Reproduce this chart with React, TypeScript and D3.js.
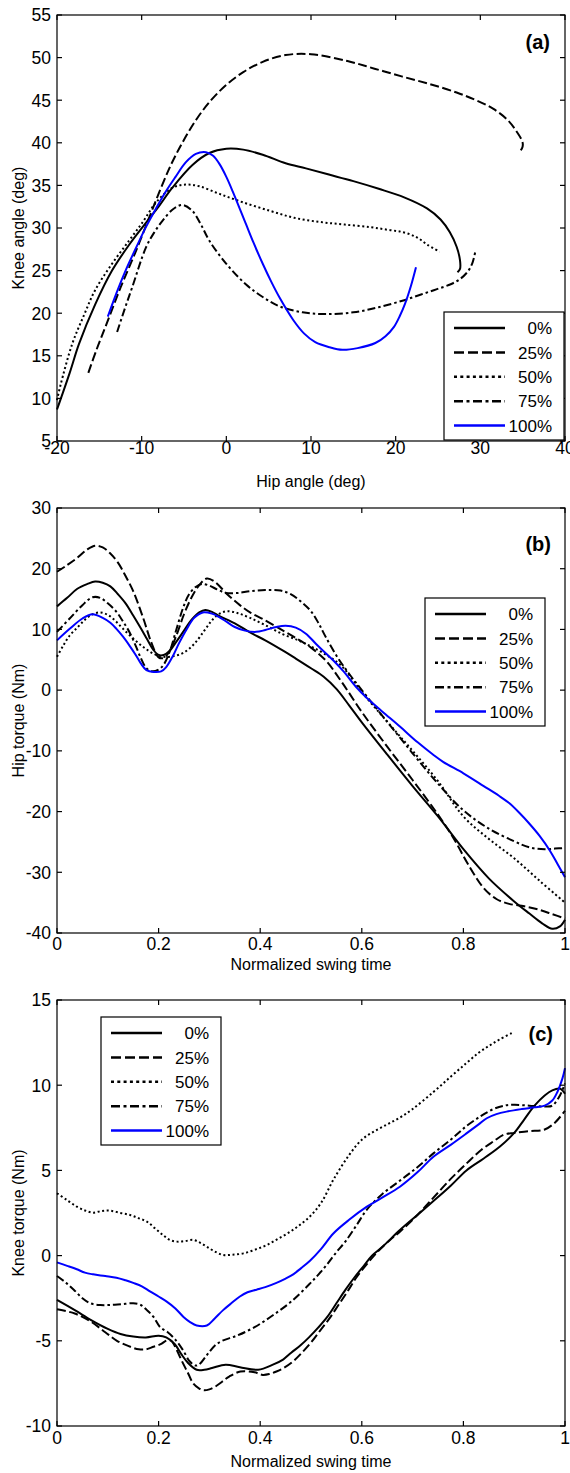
import React from 'react';
import * as d3 from 'd3';

// legend entries (load level)
const legendLabels = ['0%', '25%', '50%', '75%', '100%'];

// (a) knee angle vs hip angle, [hip deg, knee deg]
const angle0 = [[-20, 8.7], [-18.5, 13], [-17.4, 16.4], [-15.5, 21], [-13.5, 25], [-11.5, 28], [-9.5, 30.6], [-8, 32.5], [-6.4, 34.7], [-4, 37.4], [-2, 38.8], [0, 39.3], [2, 39.2], [4.3, 38.6], [7, 37.6], [9.4, 37], [12, 36.3], [15, 35.5], [18, 34.6], [21, 33.6], [23.7, 32.3], [25.3, 31], [26.4, 29.5], [27.2, 27.8], [27.6, 26.2], [27.6, 25.2], [27.3, 24.8]];
const angle25 = [[-16.3, 13], [-15.3, 15.8], [-14.2, 18.6], [-12.5, 23], [-10.8, 27], [-9.2, 31], [-7.8, 34.5], [-6.5, 37.5], [-5.2, 40], [-3.5, 42.8], [-1.8, 45], [0, 46.8], [2, 48.3], [4.3, 49.5], [7, 50.3], [10, 50.4], [14.3, 49.6], [17.5, 48.7], [20.7, 47.8], [24, 46.9], [27.2, 45.9], [29.5, 45], [31.5, 44], [33.2, 42.7], [34.3, 41.3], [35, 40], [34.9, 39.3], [34.4, 38.9]];
const angle50 = [[-20, 9.8], [-19.6, 11.5], [-18.2, 16.4], [-16.8, 19.8], [-15.5, 22.7], [-13.5, 25.8], [-11.5, 28.5], [-9.8, 30.8], [-8.3, 33], [-6.4, 34.7], [-4.8, 35.1], [-3.2, 34.9], [-0.8, 34], [2, 33], [5.2, 32], [8, 31.2], [11.1, 30.7], [14, 30.4], [17, 30.1], [19, 29.8], [20.9, 29.5], [22.5, 28.9], [23.8, 28], [25.2, 27.2]];
const angle75 = [[-12.9, 17.8], [-12, 20.5], [-11.1, 23.1], [-9.5, 27.7], [-8.5, 29.5], [-7.5, 30.9], [-6.3, 32.2], [-5.2, 32.7], [-4, 32], [-3, 30.4], [-2, 28.5], [0, 25.8], [2.3, 23.4], [4.3, 21.9], [6.3, 20.8], [9, 20.1], [11.5, 19.9], [15, 20.1], [18, 20.7], [20.9, 21.5], [23, 22.2], [24.8, 22.8], [26.5, 23.4], [27.6, 24], [28.6, 25], [29.1, 26], [29.4, 27.2]];
const angle100 = [[-14, 19.6], [-13, 22.3], [-11.9, 25], [-10.7, 27.6], [-9.5, 30.1], [-8.3, 32.3], [-7.2, 34.2], [-6, 36], [-4.8, 37.7], [-3.6, 38.7], [-2.4, 38.9], [-1.6, 38.5], [-0.8, 37.5], [0, 36], [0.75, 34.3], [2.3, 30.5], [3.2, 28.3], [4.3, 25.8], [5.3, 23.7], [6.3, 21.8], [7.9, 19.2], [9.2, 17.6], [10.5, 16.6], [12.2, 16], [13.7, 15.7], [15.5, 15.9], [17.6, 16.5], [18.8, 17.3], [19.8, 18.4], [20.5, 19.7], [21.1, 21.1], [21.8, 23.2], [22.4, 25.4]];

// (b) hip torque vs normalized swing time
const hip0 = [[0, 13.8], [0.02, 15.2], [0.04, 16.7], [0.06, 17.5], [0.075, 17.9], [0.09, 17.7], [0.105, 17.1], [0.12, 15.8], [0.135, 14.3], [0.15, 12.3], [0.165, 10.2], [0.178, 8.3], [0.19, 6.6], [0.2, 5.8], [0.21, 5.8], [0.222, 6.5], [0.235, 8], [0.25, 9.8], [0.265, 11.6], [0.28, 12.8], [0.292, 13.2], [0.305, 12.9], [0.32, 12.2], [0.35, 11], [0.38, 9.5], [0.41, 8.2], [0.445, 6.5], [0.47, 5.2], [0.5, 3.6], [0.525, 2.2], [0.55, 0.2], [0.575, -2.5], [0.6, -5.3], [0.65, -10.6], [0.7, -15.8], [0.75, -20.8], [0.8, -26.2], [0.85, -31], [0.9, -34.8], [0.93, -36.8], [0.955, -38.4], [0.975, -39.3], [0.99, -38.9], [1, -37.8]];
const hip25 = [[0, 19.5], [0.02, 20.6], [0.04, 21.8], [0.06, 23.2], [0.075, 23.8], [0.09, 23.5], [0.105, 22.5], [0.12, 21], [0.135, 18.8], [0.15, 16.3], [0.17, 11.8], [0.185, 8], [0.2, 5.4], [0.21, 5.3], [0.22, 6.2], [0.235, 9], [0.25, 12.5], [0.265, 15.3], [0.28, 17.3], [0.295, 18.4], [0.31, 17.9], [0.335, 15.8], [0.36, 14], [0.38, 12.8], [0.41, 11.5], [0.445, 9.8], [0.47, 8.6], [0.5, 7], [0.53, 4.8], [0.56, 1.4], [0.6, -3.6], [0.65, -9.3], [0.7, -14.8], [0.75, -20.5], [0.78, -24.3], [0.81, -28.8], [0.84, -32.6], [0.865, -34.4], [0.89, -35.2], [0.92, -35.6], [0.95, -36.2], [0.975, -36.9], [1, -37.6]];
const hip50 = [[0, 5.5], [0.012, 7.3], [0.025, 9], [0.04, 10.3], [0.055, 11.6], [0.07, 12.5], [0.085, 12.8], [0.1, 12.4], [0.115, 11.4], [0.13, 10.1], [0.15, 8.5], [0.17, 7.1], [0.19, 6], [0.21, 5.5], [0.23, 5.6], [0.25, 6.2], [0.27, 7.6], [0.29, 9.8], [0.305, 11.5], [0.32, 12.6], [0.335, 13], [0.355, 12.7], [0.38, 11.9], [0.41, 10.7], [0.445, 9.2], [0.475, 8.2], [0.5, 7.2], [0.53, 5.8], [0.56, 4], [0.6, -0.3], [0.65, -5.2], [0.7, -10], [0.75, -15], [0.8, -20.8], [0.85, -24.5], [0.9, -27.7], [0.95, -31.4], [1, -35]];
const hip75 = [[0, 9.6], [0.025, 11.8], [0.05, 14], [0.07, 15.3], [0.085, 15.2], [0.1, 14.3], [0.117, 12.9], [0.13, 11.3], [0.143, 9.5], [0.155, 7.3], [0.165, 5.3], [0.176, 3.6], [0.187, 3.1], [0.2, 3.4], [0.21, 4.2], [0.222, 6.4], [0.235, 10], [0.248, 13.5], [0.26, 15.8], [0.273, 17], [0.285, 17.5], [0.3, 17.2], [0.315, 16.6], [0.333, 16], [0.355, 16], [0.38, 16.3], [0.41, 16.5], [0.44, 16.4], [0.46, 15.8], [0.48, 14.6], [0.5, 13], [0.515, 11], [0.53, 8.6], [0.553, 5.3], [0.575, 2.7], [0.6, 0], [0.65, -5.2], [0.7, -10.4], [0.75, -15.4], [0.8, -19.8], [0.85, -22.8], [0.9, -24.9], [0.93, -25.9], [0.96, -26.2], [0.98, -26.1], [1, -26]];
const hip100 = [[0, 8.2], [0.025, 10.1], [0.05, 11.8], [0.07, 12.5], [0.09, 11.9], [0.105, 11.1], [0.117, 10.1], [0.13, 8.8], [0.143, 7.3], [0.155, 5.8], [0.165, 4.4], [0.176, 3.3], [0.19, 3], [0.205, 3.1], [0.215, 3.8], [0.228, 5.6], [0.24, 7.7], [0.255, 10], [0.27, 11.9], [0.287, 12.8], [0.305, 12.6], [0.32, 12], [0.335, 11.2], [0.35, 10.4], [0.37, 9.8], [0.392, 9.6], [0.41, 9.9], [0.432, 10.4], [0.45, 10.6], [0.47, 10.3], [0.49, 9.3], [0.51, 7.6], [0.53, 6], [0.545, 4.8], [0.565, 3], [0.588, 0.6], [0.61, -1.3], [0.64, -3.5], [0.675, -6], [0.71, -8.6], [0.74, -10.6], [0.76, -11.8], [0.8, -13.7], [0.84, -15.8], [0.87, -17.4], [0.89, -18.6], [0.91, -20.2], [0.93, -22], [0.95, -24], [0.97, -26.4], [0.985, -28.6], [1, -30.8]];

// (c) knee torque vs normalized swing time
const knee0 = [[0, -2.6], [0.035, -3.2], [0.068, -3.8], [0.1, -4.3], [0.125, -4.6], [0.15, -4.75], [0.175, -4.8], [0.2, -4.7], [0.215, -4.8], [0.232, -5.2], [0.245, -5.8], [0.258, -6.3], [0.275, -6.7], [0.29, -6.7], [0.305, -6.6], [0.332, -6.4], [0.36, -6.55], [0.396, -6.7], [0.425, -6.4], [0.445, -6.1], [0.461, -5.7], [0.48, -5.25], [0.496, -4.8], [0.515, -4.2], [0.532, -3.6], [0.55, -2.8], [0.568, -2], [0.585, -1.3], [0.604, -0.6], [0.62, 0], [0.64, 0.5], [0.675, 1.5], [0.71, 2.4], [0.741, 3.2], [0.775, 4.1], [0.806, 5], [0.84, 5.7], [0.872, 6.4], [0.9, 7.2], [0.92, 8], [0.94, 8.8], [0.96, 9.4], [0.975, 9.7], [0.99, 9.8], [1, 9.5]];
const knee25 = [[0, -3.15], [0.035, -3.4], [0.068, -3.9], [0.095, -4.5], [0.118, -5], [0.14, -5.3], [0.161, -5.5], [0.175, -5.5], [0.19, -5.35], [0.204, -5.2], [0.215, -5], [0.225, -5], [0.235, -5.5], [0.246, -6.2], [0.258, -6.9], [0.268, -7.5], [0.28, -7.8], [0.289, -7.9], [0.3, -7.85], [0.311, -7.7], [0.325, -7.4], [0.339, -7.1], [0.361, -6.8], [0.389, -6.85], [0.405, -7], [0.418, -6.95], [0.432, -6.8], [0.446, -6.6], [0.465, -6.2], [0.482, -5.7], [0.5, -5.1], [0.518, -4.4], [0.536, -3.7], [0.554, -2.9], [0.572, -2.1], [0.589, -1.3], [0.61, -0.5], [0.632, 0.25], [0.655, 0.9], [0.675, 1.4], [0.71, 2.4], [0.741, 3.4], [0.775, 4.5], [0.806, 5.4], [0.835, 6.2], [0.859, 6.7], [0.88, 7.1], [0.9, 7.2], [0.93, 7.3], [0.96, 7.4], [0.98, 7.8], [1, 8.5]];
const knee50 = [[0, 3.66], [0.02, 3.25], [0.039, 2.87], [0.055, 2.65], [0.071, 2.52], [0.088, 2.62], [0.104, 2.64], [0.125, 2.5], [0.144, 2.38], [0.16, 2.2], [0.177, 1.99], [0.193, 1.6], [0.209, 1.2], [0.222, 0.92], [0.236, 0.82], [0.252, 0.85], [0.268, 0.92], [0.282, 0.75], [0.295, 0.52], [0.31, 0.25], [0.327, 0.04], [0.345, 0.05], [0.367, 0.13], [0.39, 0.35], [0.413, 0.62], [0.436, 1], [0.459, 1.4], [0.478, 1.8], [0.498, 2.3], [0.52, 3.1], [0.545, 4.5], [0.575, 5.9], [0.6, 6.8], [0.625, 7.3], [0.65, 7.7], [0.675, 8.1], [0.7, 8.6], [0.741, 9.6], [0.775, 10.5], [0.806, 11.3], [0.83, 11.9], [0.85, 12.3], [0.872, 12.7], [0.898, 13.1]];
const knee75 = [[0, -1.2], [0.018, -1.6], [0.033, -2], [0.05, -2.5], [0.066, -2.8], [0.085, -2.9], [0.104, -2.9], [0.127, -2.85], [0.15, -2.8], [0.165, -2.9], [0.177, -3.2], [0.19, -3.6], [0.203, -4.2], [0.218, -4.5], [0.232, -4.9], [0.247, -5.5], [0.261, -6.2], [0.272, -6.45], [0.279, -6.4], [0.296, -5.8], [0.31, -5.3], [0.325, -5], [0.354, -4.7], [0.389, -4.2], [0.425, -3.5], [0.461, -2.7], [0.496, -1.7], [0.515, -1.1], [0.532, -0.5], [0.55, 0.2], [0.568, 0.84], [0.59, 1.8], [0.61, 2.7], [0.64, 3.6], [0.675, 4.4], [0.71, 5.2], [0.741, 6], [0.775, 6.8], [0.806, 7.6], [0.835, 8.2], [0.859, 8.6], [0.88, 8.8], [0.9, 8.85], [0.93, 8.8], [0.96, 8.75], [0.975, 8.8], [0.99, 9.4], [1, 10.1]];
const knee100 = [[0, -0.4], [0.02, -0.6], [0.039, -0.8], [0.055, -1], [0.071, -1.1], [0.095, -1.2], [0.117, -1.3], [0.135, -1.45], [0.15, -1.6], [0.167, -1.8], [0.183, -2.1], [0.2, -2.4], [0.216, -2.7], [0.233, -3.1], [0.249, -3.6], [0.262, -3.9], [0.275, -4.1], [0.295, -4.1], [0.31, -3.7], [0.327, -3.2], [0.343, -2.8], [0.36, -2.4], [0.375, -2.15], [0.393, -2], [0.41, -1.85], [0.432, -1.6], [0.45, -1.35], [0.465, -1.1], [0.48, -0.75], [0.498, -0.3], [0.52, 0.4], [0.544, 1.3], [0.575, 2.1], [0.61, 2.87], [0.64, 3.4], [0.675, 4.04], [0.71, 4.9], [0.741, 5.8], [0.775, 6.5], [0.806, 7.17], [0.83, 7.7], [0.846, 8.06], [0.865, 8.3], [0.885, 8.45], [0.915, 8.6], [0.94, 8.7], [0.96, 8.8], [0.975, 9.1], [0.985, 9.6], [0.995, 10.4], [1, 11]];

const hipAngleTicks = [-20, -10, 0, 10, 20, 30, 40];
const kneeAngleTicks = [5, 10, 15, 20, 25, 30, 35, 40, 45, 50, 55];
const timeTicks = [0, 0.2, 0.4, 0.6, 0.8, 1];
const hipTorqueTicks = [-40, -30, -20, -10, 0, 10, 20, 30];
const kneeTorqueTicks = [-10, -5, 0, 5, 10, 15];

const FONT = '"Liberation Sans", Arial, Helvetica, sans-serif';
const strokes = ['#000', '#000', '#000', '#000', '#0000ff'];
const curveDash = [undefined, '9,3.5', '2,2.6', '8,3,2.5,3', undefined];
const legendDash = [undefined, '10,4', '3,3.3', '9,3.5,3,3.5', undefined];

type Pt = number[];

interface PanelProps {
  top: number;
  bottom: number;
  xTicks: number[];
  yTicks: number[];
  series: Pt[][];
  xTitle: string;
  yTitle: string;
  tag: string;
  tagX: number;
  tagY: number;
  labelY: number;
  titleY: number;
  legendX: number;
  legendY: number;
}

const LEFT = 57;
const RIGHT = 565;

function Panel(p: PanelProps) {
  const x = d3.scaleLinear().domain(d3.extent(p.xTicks) as [number, number]).range([LEFT, RIGHT]);
  const y = d3.scaleLinear().domain(d3.extent(p.yTicks) as [number, number]).range([p.bottom, p.top]);
  const line = d3.line<Pt>().x(d => x(d[0])).y(d => y(d[1])).curve(d3.curveCatmullRom.alpha(0.5));
  const tl = 5;
  const midY = (p.top + p.bottom) / 2;

  return (
    <g>
      {p.series.map((s, i) => (
        <path key={i} d={line(s) || ''} fill="none" stroke={strokes[i]} strokeWidth={2}
          strokeDasharray={curveDash[i]} strokeLinejoin="round" />
      ))}
      <rect x={LEFT} y={p.top} width={RIGHT - LEFT} height={p.bottom - p.top} fill="none" stroke="#000" strokeWidth={1.2} />
      {p.xTicks.map(t => (
        <g key={'x' + t}>
          <line x1={x(t)} x2={x(t)} y1={p.bottom} y2={p.bottom - tl} stroke="#000" strokeWidth={1.2} />
          <line x1={x(t)} x2={x(t)} y1={p.top} y2={p.top + tl} stroke="#000" strokeWidth={1.2} />
          <text x={x(t)} y={p.labelY} textAnchor="middle" fontSize={17.5} fontFamily={FONT}>{String(t)}</text>
        </g>
      ))}
      {p.yTicks.map(t => (
        <g key={'y' + t}>
          <line x1={LEFT} x2={LEFT + tl} y1={y(t)} y2={y(t)} stroke="#000" strokeWidth={1.2} />
          <line x1={RIGHT} x2={RIGHT - tl} y1={y(t)} y2={y(t)} stroke="#000" strokeWidth={1.2} />
          <text x={51} y={y(t)} dy="0.36em" textAnchor="end" fontSize={17.5} fontFamily={FONT}>{String(t)}</text>
        </g>
      ))}
      <text x={(LEFT + RIGHT) / 2} y={p.titleY} textAnchor="middle" fontSize={16} fontFamily={FONT}>{p.xTitle}</text>
      <text transform={`translate(24,${midY}) rotate(-90)`} textAnchor="middle" fontSize={16} fontFamily={FONT}>{p.yTitle}</text>
      <text x={p.tagX} y={p.tagY} textAnchor="end" fontSize={20} fontWeight="bold" fontFamily={FONT}>{p.tag}</text>
      <g transform={`translate(${p.legendX},${p.legendY})`}>
        <rect x={0} y={0} width={120} height={128} fill="#fff" stroke="#000" strokeWidth={1.2} />
        {legendLabels.map((lab, i) => {
          const ry = 16 + i * 24.4;
          return (
            <g key={lab}>
              <line x1={10} x2={61} y1={ry} y2={ry} stroke={strokes[i]} strokeWidth={2.5} strokeDasharray={legendDash[i]} />
              <text x={108} y={ry} dy="0.36em" textAnchor="end" fontSize={17} fontFamily={FONT}>{lab}</text>
            </g>
          );
        })}
      </g>
    </g>
  );
}

export default function App() {
  return (
    <div style={{ position: 'absolute', left: 0, top: 0 }}>
      <svg width={570} height={1473} style={{ display: 'block', background: '#fff' }}>
        <Panel top={15} bottom={441} xTicks={hipAngleTicks} yTicks={kneeAngleTicks}
          series={[angle0, angle25, angle50, angle75, angle100]}
          xTitle="Hip angle (deg)" yTitle="Knee angle (deg)" tag="(a)" tagX={550} tagY={49}
          labelY={454} titleY={487} legendX={444} legendY={312} />
        <Panel top={508} bottom={933} xTicks={timeTicks} yTicks={hipTorqueTicks}
          series={[hip0, hip25, hip50, hip75, hip100]}
          xTitle="Normalized swing time" yTitle="Hip torque (Nm)" tag="(b)" tagX={551} tagY={551}
          labelY={950} titleY={970} legendX={425} legendY={598} />
        <Panel top={1000} bottom={1426} xTicks={timeTicks} yTicks={kneeTorqueTicks}
          series={[knee0, knee25, knee50, knee75, knee100]}
          xTitle="Normalized swing time" yTitle="Knee torque (Nm)" tag="(c)" tagX={553} tagY={1041}
          labelY={1444} titleY={1467} legendX={101} legendY={1017} />
      </svg>
    </div>
  );
}
